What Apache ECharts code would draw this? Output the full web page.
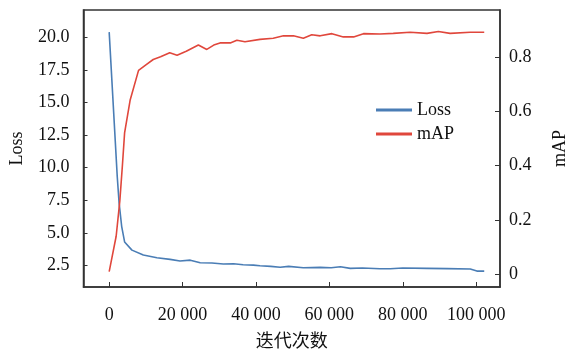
<!DOCTYPE html>
<html>
<head>
<meta charset="utf-8">
<script src="https://cdn.jsdelivr.net/npm/echarts@6/dist/echarts.min.js"></script>
<style>
  html, body { margin: 0; padding: 0; background: #fff; }
  #main { width: 566px; height: 349px; }
</style>
</head>
<body>
<div id="main"></div>
<script>
// values
var lossIters = [0, 2200, 2700, 3400, 4200, 6200, 9300, 13000, 16600, 19300, 22100, 24800, 28000, 31100, 33900, 36500, 39300, 41100, 44000, 46600, 48900, 52900, 57500, 60500, 63000, 65700, 69000, 73800, 76600, 80000, 86600, 92000, 98400, 100200, 102200];
var lossVals = [20.4, 9.3, 7.3, 5.5, 4.3, 3.67, 3.29, 3.08, 2.96, 2.83, 2.9, 2.7, 2.68, 2.6, 2.62, 2.55, 2.52, 2.47, 2.42, 2.35, 2.42, 2.32, 2.35, 2.32, 2.39, 2.27, 2.3, 2.24, 2.24, 2.3, 2.27, 2.25, 2.22, 2.06, 2.06];

var mapIters = [0, 1900, 2900, 3600, 4200, 5700, 8000, 10000, 12000, 14000, 16500, 18500, 21000, 24300, 26600, 28500, 30200, 33000, 34800, 37000, 41100, 44700, 47500, 50200, 52900, 55200, 57500, 60700, 63800, 66600, 69300, 73800, 77400, 82000, 86600, 89700, 92900, 98400, 102200];
var mapVals = [0.01, 0.14, 0.27, 0.40, 0.52, 0.64, 0.75, 0.77, 0.79, 0.80, 0.815, 0.806, 0.82, 0.843, 0.827, 0.843, 0.851, 0.851, 0.861, 0.855, 0.864, 0.868, 0.877, 0.877, 0.868, 0.881, 0.877, 0.885, 0.873, 0.873, 0.885, 0.884, 0.886, 0.89, 0.886, 0.893, 0.886, 0.89, 0.89];

var xTicks = [0, 20000, 40000, 60000, 80000, 100000];
var lossTicks = [2.5, 5, 7.5, 10, 12.5, 15, 17.5, 20];
var mapTicks = [0, 0.2, 0.4, 0.6, 0.8];

function pairs(xs, ys) {
    return xs.map(function (x, i) { return [x, ys[i]]; });
}

var font = '"Liberation Serif", "Noto Sans CJK SC", serif';
var axisColor = '#333';

var myChart = echarts.init(document.getElementById('main'));
myChart.setOption({
    backgroundColor: '#fff',
    animation: false,
    textStyle: { fontFamily: font },
    grid: {
        left: 83.5, right: 66, top: 10, bottom: 62,
        outerBoundsMode: 'none',
        containLabel: false,
        show: true, borderColor: axisColor, borderWidth: 1.5
    },
    legend: {
        orient: 'vertical',
        left: 371, top: 96,
        itemWidth: 36, itemHeight: 3, itemGap: 6,
        icon: 'rect',
        textStyle: { fontFamily: font, fontSize: 18, color: '#111' },
        data: ['Loss', 'mAP']
    },
    xAxis: {
        type: 'value',
        min: -7000, max: 106500,
        name: '迭代次数',
        nameLocation: 'middle',
        nameGap: 46,
        nameTextStyle: { fontFamily: font, fontSize: 18, color: '#111' },
        axisLine: { onZero: false, lineStyle: { color: axisColor, width: 1.5 } },
        axisTick: { inside: true, length: 5, customValues: xTicks, lineStyle: { color: axisColor } },
        axisLabel: {
            customValues: xTicks, margin: 19, fontSize: 18, color: '#111', fontFamily: font,
            formatter: function (v) { return v === 0 ? '0' : (v / 1000) + ' 000'; }
        },
        splitLine: { show: false }
    },
    yAxis: [{
        type: 'value',
        min: 0.84, max: 22.1,
        name: 'Loss',
        nameLocation: 'middle',
        nameGap: 57,
        nameTextStyle: { fontFamily: font, fontSize: 18, color: '#111' },
        axisLine: { show: true, onZero: false, lineStyle: { color: axisColor, width: 1.5 } },
        axisTick: { inside: true, length: 4, customValues: lossTicks, lineStyle: { color: axisColor } },
        axisLabel: {
            customValues: lossTicks, margin: 14, fontSize: 18, color: '#111', fontFamily: font,
            formatter: function (v) { return v.toFixed(1); }
        },
        splitLine: { show: false }
    }, {
        type: 'value',
        position: 'right',
        min: -0.0467, max: 0.972,
        name: 'mAP',
        nameLocation: 'middle',
        nameGap: 51,
        nameTextStyle: { fontFamily: font, fontSize: 18, color: '#111' },
        axisLine: { show: true, onZero: false, lineStyle: { color: axisColor, width: 1.5 } },
        axisTick: { inside: true, length: 5, customValues: mapTicks, lineStyle: { color: axisColor } },
        axisLabel: {
            customValues: mapTicks, margin: 9, fontSize: 18, color: '#111', fontFamily: font,
            formatter: function (v) { return v === 0 ? '0' : v.toFixed(1); }
        },
        splitLine: { show: false }
    }],
    series: [{
        name: 'Loss',
        type: 'line',
        yAxisIndex: 0,
        showSymbol: false,
        symbol: 'none',
        data: pairs(lossIters, lossVals),
        itemStyle: { color: '#4a7db5' },
        lineStyle: { color: '#4a7db5', width: 1.6 }
    }, {
        name: 'mAP',
        type: 'line',
        yAxisIndex: 1,
        showSymbol: false,
        symbol: 'none',
        data: pairs(mapIters, mapVals),
        itemStyle: { color: '#e0473c' },
        lineStyle: { color: '#e0473c', width: 1.6 }
    }]
});
</script>
</body>
</html>
